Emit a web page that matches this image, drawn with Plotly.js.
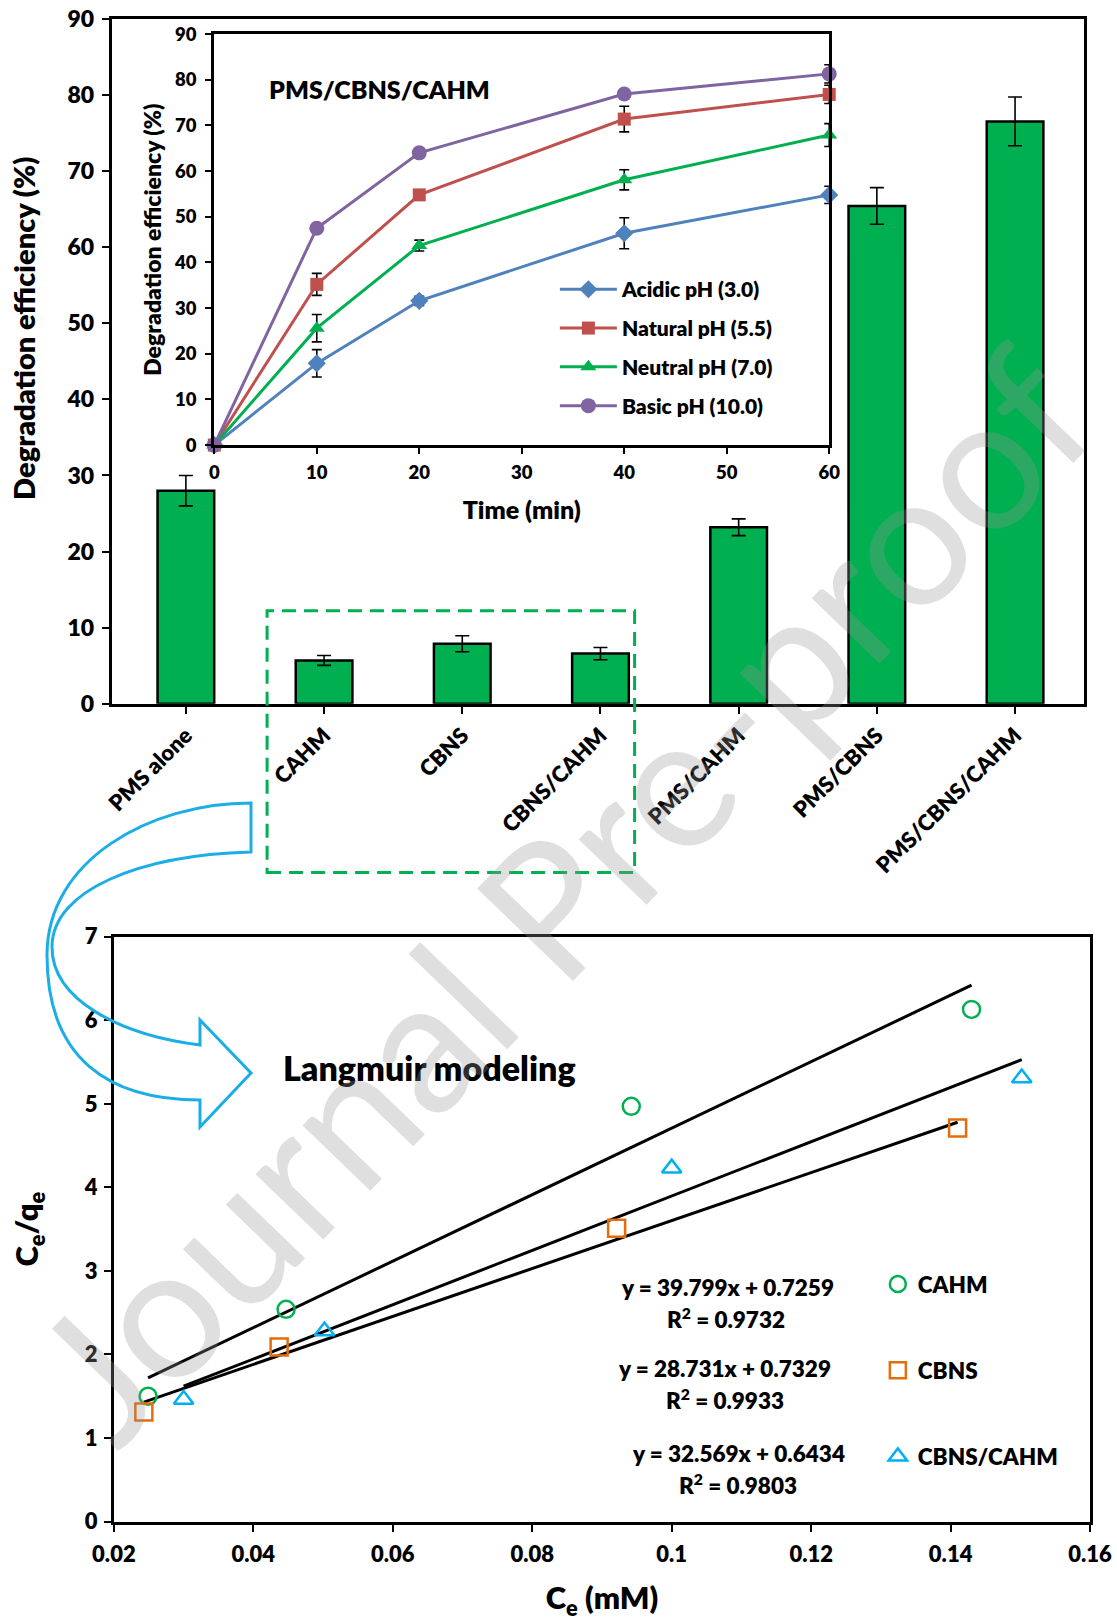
<!DOCTYPE html>
<html><head><meta charset="utf-8">
<script src="https://cdn.plot.ly/plotly-3.0.1.min.js"></script>
<style>html,body{margin:0;padding:0;background:#fff;}#chart{width:1117px;height:1623px;}</style>
</head><body><div id="chart"></div>
<script>
// ---------- data: bar chart ----------
const barCategories = ['PMS alone','CAHM','CBNS','CBNS/CAHM','PMS/CAHM','PMS/CBNS','PMS/CBNS/CAHM'];
const barValues = [28.0, 5.7, 7.9, 6.6, 23.2, 65.4, 76.5];
const barErrors = [2.0, 0.65, 1.05, 0.8, 1.1, 2.4, 3.2];
const barTicks = [0,10,20,30,40,50,60,70,80,90];

// ---------- data: inset (pH effect) ----------
const timeMin = [0, 10, 20, 40, 60];
const acidic = [0, 17.9, 31.6, 46.4, 54.8];
const acidicErr = [0, 3.0, 1.0, 3.4, 1.9];
const natural = [0, 35.2, 54.8, 71.4, 76.8];
const naturalErr = [0, 2.4, 1.0, 2.8, 2.0];
const neutral = [0, 25.6, 43.7, 58.1, 67.9];
const neutralErr = [0, 3.0, 1.2, 2.2, 2.5];
const basic = [0, 47.5, 64.0, 76.9, 81.3];
const basicErr = [0, 0.8, 0.8, 0.8, 2.0];
const insetXTicks = [0,10,20,30,40,50,60];
const insetYTicks = [0,10,20,30,40,50,60,70,80,90];

// ---------- data: Langmuir ----------
const cahmCe = [0.0249, 0.0447, 0.0942, 0.1430];
const cahmRatio = [1.50, 2.54, 4.97, 6.13];
const cbnsCe = [0.0243, 0.0437, 0.0921, 0.1410];
const cbnsRatio = [1.31, 2.09, 3.51, 4.71];
const mixCe = [0.0300, 0.0502, 0.1000, 0.1502];
const mixRatio = [1.46, 2.28, 4.23, 5.31];
const cahmFitCe = [0.0249, 0.1430];
const cahmFitRatio = [1.72, 6.42];
const cbnsFitCe = [0.0243, 0.1410];
const cbnsFitRatio = [1.43, 4.78];
const mixFitCe = [0.0300, 0.1502];
const mixFitRatio = [1.62, 5.53];
const langXTicks = [0.02,0.04,0.06,0.08,0.10,0.12,0.14,0.16];
const langXLabels = ['0.02','0.04','0.06','0.08','0.1','0.12','0.14','0.16'];
const langYTicks = [0,1,2,3,4,5,6,7];
const eqTexts = ['y = 39.799x + 0.7259','R<sup>2</sup> = 0.9732','y = 28.731x + 0.7329','R<sup>2</sup> = 0.9933','y = 32.569x + 0.6434','R<sup>2</sup> = 0.9803'];

// ---------- geometry helpers (reference pixel space 1079x1568) ----------
const W0 = 1079, H0 = 1568;
const fx = x => x / W0;
const fy = y => 1 - y / H0;
const dx = (a, b) => [fx(a), fx(b)];
const dy = (top, bottom) => [fy(bottom), fy(top)];
const FF = 'Lato, "Open Sans", sans-serif';
const WT = 800;
const bold = (s) => ({family: FF, size: s, color: '#000', weight: WT});

const GREEN = '#00B050', BLUE = '#4F81BD', RED = '#C0504D', PURPLE = '#8064A2';
const ORANGE = '#E46C0A', CYAN = '#00B0F0';

const errStyle = (arr, w) => ({type: 'data', array: arr, visible: true, color: '#000', thickness: 1.6, width: w});

const traces = [
  {type: 'bar', x: barCategories, y: barValues, xaxis: 'x', yaxis: 'y', width: 0.41,
   marker: {color: GREEN, line: {color: '#000', width: 2.5}}, error_y: errStyle(barErrors, 7), showlegend: false},
  {type: 'scatter', mode: 'lines+markers', name: 'Acidic pH (3.0)', x: timeMin, y: acidic, xaxis: 'x2', yaxis: 'y2',
   line: {color: BLUE, width: 3}, marker: {symbol: 'diamond', size: 14, color: BLUE}, error_y: errStyle(acidicErr, 5),
   cliponaxis: false, legend: 'legend', legendgroup: 'a'},
  {type: 'scatter', mode: 'lines+markers', name: 'Natural pH (5.5)', x: timeMin, y: natural, xaxis: 'x2', yaxis: 'y2',
   line: {color: RED, width: 3}, marker: {symbol: 'square', size: 13, color: RED}, error_y: errStyle(naturalErr, 5),
   cliponaxis: false, legend: 'legend', legendgroup: 'b'},
  {type: 'scatter', mode: 'lines+markers', name: 'Neutral pH (7.0)', x: timeMin, y: neutral, xaxis: 'x2', yaxis: 'y2',
   line: {color: GREEN, width: 3}, marker: {symbol: 'triangle-up', size: 14, color: GREEN}, error_y: errStyle(neutralErr, 5),
   cliponaxis: false, legend: 'legend', legendgroup: 'c'},
  {type: 'scatter', mode: 'lines+markers', name: 'Basic pH (10.0)', x: timeMin, y: basic, xaxis: 'x2', yaxis: 'y2',
   line: {color: PURPLE, width: 3}, marker: {symbol: 'circle', size: 15, color: PURPLE}, error_y: errStyle(basicErr, 5),
   cliponaxis: false, legend: 'legend', legendgroup: 'd'},
  // Langmuir fits
  {type: 'scatter', mode: 'lines', x: cahmFitCe, y: cahmFitRatio, xaxis: 'x3', yaxis: 'y3', line: {color: '#000', width: 3}, showlegend: false},
  {type: 'scatter', mode: 'lines', x: cbnsFitCe, y: cbnsFitRatio, xaxis: 'x3', yaxis: 'y3', line: {color: '#000', width: 3}, showlegend: false},
  {type: 'scatter', mode: 'lines', x: mixFitCe, y: mixFitRatio, xaxis: 'x3', yaxis: 'y3', line: {color: '#000', width: 3}, showlegend: false},
  {type: 'scatter', mode: 'markers', name: 'CAHM', x: cahmCe, y: cahmRatio, xaxis: 'x3', yaxis: 'y3', cliponaxis: false,
   marker: {symbol: 'circle-open', size: 17, color: GREEN, line: {width: 2.5, color: GREEN}}, legend: 'legend2', legendgroup: 'e'},
  {type: 'scatter', mode: 'markers', name: 'CBNS', x: cbnsCe, y: cbnsRatio, xaxis: 'x3', yaxis: 'y3', cliponaxis: false,
   marker: {symbol: 'square-open', size: 17, color: ORANGE, line: {width: 2.5, color: ORANGE}}, legend: 'legend2', legendgroup: 'f'},
  {type: 'scatter', mode: 'markers', name: 'CBNS/CAHM', x: mixCe, y: mixRatio, xaxis: 'x3', yaxis: 'y3', cliponaxis: false,
   marker: {symbol: 'triangle-up-open', size: 17, color: CYAN, line: {width: 2.5, color: CYAN}}, legend: 'legend2', legendgroup: 'g'}
];

const axisBase = {showgrid: false, zeroline: false, showline: true, linecolor: '#000', mirror: true, ticks: 'outside', tickcolor: '#000'};

// arrow path (original 1117x1623 coordinates)
const ox = x => x / 1117, oy = y => 1 - y / 1623;
const pt = (x, y) => `${ox(x).toFixed(5)},${oy(y).toFixed(5)}`;
const arrowPath = `M${pt(251,803)} C${pt(150,803)} ${pt(47,860)} ${pt(47,955)} C${pt(47,1060)} ${pt(110,1100)} ${pt(200,1100)} ` +
  `L${pt(200,1127)} L${pt(251,1073)} L${pt(200,1020)} L${pt(200,1045)} ` +
  `C${pt(120,1035)} ${pt(52,1000)} ${pt(52,947)} C${pt(52,890)} ${pt(140,855)} ${pt(251,852)} Z`;

const eqY = [1259, 1290, 1337, 1368, 1419, 1450];
const eqX = [703, 701, 700, 700, 713, 713];
const annotations = [
  {text: 'Degradation efficiency (%)', xref: 'paper', yref: 'paper', x: fx(22), y: fy(317), textangle: -90,
   showarrow: false, font: bold(29), xanchor: 'center', yanchor: 'middle'},
  {text: 'PMS/CBNS/CAHM', xref: 'paper', yref: 'paper', x: fx(367), y: fy(70), showarrow: false, font: bold(25)},
  {text: 'Langmuir modeling', xref: 'paper', yref: 'paper', x: fx(415), y: fy(1031), showarrow: false, font: bold(34)},
  {text: 'Journal Pre-proof', xref: 'paper', yref: 'paper', x: fx(540), y: fy(862), showarrow: false, textangle: -46,
   font: {family: FF, size: 186, color: 'rgba(150,150,150,0.3)'}}
];
eqTexts.forEach((t, i) => annotations.push({text: t, xref: 'paper', yref: 'paper', x: fx(eqX[i]), y: fy(eqY[i]),
  showarrow: false, font: bold(22.5)}));

const layout = {
  width: 1117, height: 1623, margin: {l: 0, r: 0, t: 0, b: 0}, paper_bgcolor: '#fff', plot_bgcolor: 'rgba(0,0,0,0)',
  font: {family: FF, color: '#000'},
  xaxis: Object.assign({}, axisBase, {domain: dx(108, 1047), type: 'category', categoryarray: barCategories, range: [-0.536, 6.498],
    linewidth: 3, ticklen: 7, tickwidth: 2, tickangle: -45, tickfont: bold(22)}),
  yaxis: Object.assign({}, axisBase, {domain: dy(18, 680), range: [0, 90], tickvals: barTicks, linewidth: 3, ticklen: 7, tickwidth: 2,
    tickfont: bold(23), ticklabelstandoff: 3}),
  xaxis2: Object.assign({}, axisBase, {domain: dx(207, 801), anchor: 'y2', range: [0, 60], tickvals: insetXTicks, linewidth: 3,
    ticklen: 6, tickwidth: 2, tickfont: bold(18.5), ticklabelstandoff: 3,
    title: {text: 'Time (min)', font: bold(25), standoff: 20}}),
  yaxis2: Object.assign({}, axisBase, {domain: dy(33, 430), anchor: 'x2', range: [0, 90], tickvals: insetYTicks, linewidth: 3,
    ticklen: 6, tickwidth: 2, tickfont: bold(18.5), ticklabelstandoff: 5,
    title: {text: 'Degradation efficiency (%)', font: bold(23), standoff: 7}}),
  xaxis3: Object.assign({}, axisBase, {domain: dx(110, 1053), anchor: 'y3', range: [0.02, 0.16], tickvals: langXTicks, ticktext: langXLabels,
    linewidth: 3, ticklen: 7, tickwidth: 2, tickfont: bold(22), ticklabelstandoff: 4,
    title: {text: 'C<sub>e</sub> (mM)', font: bold(31), standoff: 22}}),
  yaxis3: Object.assign({}, axisBase, {domain: dy(905, 1470), anchor: 'x3', range: [0, 7], tickvals: langYTicks,
    linewidth: 3, ticklen: 7, tickwidth: 2, tickfont: bold(22), ticklabelstandoff: 2,
    title: {text: 'C<sub>e</sub>/q<sub>e</sub>', font: bold(31), standoff: 36}}),
  legend: {x: fx(536), y: fy(260), xanchor: 'left', yanchor: 'top', bgcolor: 'rgba(0,0,0,0)', font: bold(21),
    itemwidth: 57, tracegroupgap: 8.5, itemclick: false},
  legend2: {x: fx(848), y: fy(1220), xanchor: 'left', yanchor: 'top', bgcolor: 'rgba(0,0,0,0)', font: bold(22.5),
    itemwidth: 30, tracegroupgap: 54, itemclick: false},
  shapes: [
    {type: 'rect', xref: 'paper', yref: 'paper', x0: fx(258), x1: fx(613), y0: fy(843), y1: fy(590),
     line: {color: GREEN, width: 3, dash: '14px,8px'}, fillcolor: 'rgba(0,0,0,0)'},
    {type: 'path', xref: 'paper', yref: 'paper', path: arrowPath, line: {color: '#1AADE6', width: 3}, fillcolor: 'rgba(0,0,0,0)'}
  ],
  annotations: annotations
};

Plotly.newPlot('chart', traces, layout, {staticPlot: true});
</script></body></html>
